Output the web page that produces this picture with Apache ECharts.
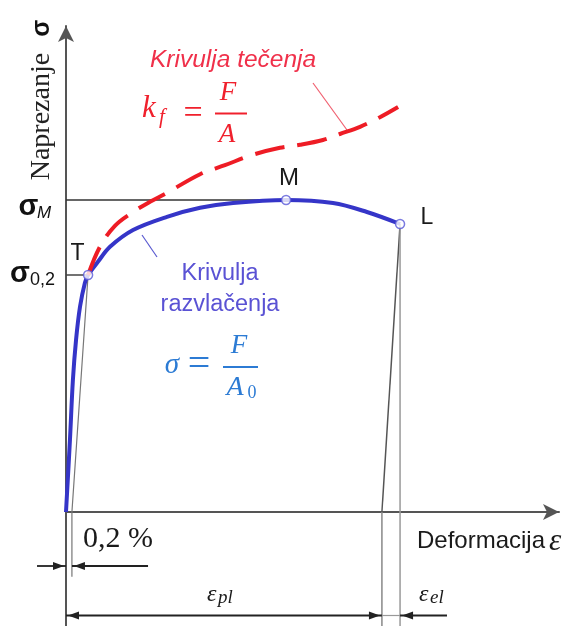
<!DOCTYPE html>
<html>
<head>
<meta charset="utf-8">
<script src="https://cdn.jsdelivr.net/npm/echarts@6/dist/echarts.min.js"></script>
<style>
html,body{margin:0;padding:0;background:#fff;}
#chart{width:571px;height:626px;}
</style>
</head>
<body>
<div id="chart"></div>
<script>
// ---- data (strain in arbitrary %, stress in arbitrary MPa) ----
const tensileStrain = [0, 0.20, 0.35, 0.51, 0.71, 0.96, 1.12, 1.62, 2.23, 3.40, 5.12, 6.80, 8.47, 11.16, 13.54, 15.26, 16.94];
const tensileStress = [0, 120, 220, 287, 342, 382, 395, 417, 442, 470, 492, 507, 515, 520, 515, 500, 480];
const flowStrain = [1.12, 1.72, 2.48, 3.40, 4.26, 5.12, 6.80, 8.06, 9.43, 10.85, 11.87, 13.03, 13.89, 14.91, 15.92, 16.84];
const flowStress = [395, 442, 477, 500, 517, 532, 563, 578, 595, 607, 612, 620, 630, 642, 658, 675];
const pointNames = ['T', 'M', 'L'];
const pointStrain = [1.12, 11.16, 16.94];
const pointStress = [395, 520, 480];
const offsetStrain = 0.30;   // 0,2 % offset line intercept
const unloadStrain = 16.02;  // plastic strain after unloading from L

const T = [pointStrain[0], pointStress[0]];
const M = [pointStrain[1], pointStress[1]];
const L = [pointStrain[2], pointStress[2]];

const zip = (a, b) => a.map((v, i) => [v, b[i]]);

const AX = '#555';
const SANS = 'Liberation Sans';
const SERIF = 'Liberation Serif';

const chart = echarts.init(document.getElementById('chart'));

// dimension levels below the strain axis (in stress units)
const dim1 = -90, dim2 = -172.5, yBottom = -190;

const arrows = [
  // x1, y1, x2, y2, headStart, headEnd, light
  [-1.47, dim1, 0, dim1, 0, 1, 0],
  [4.16, dim1, offsetStrain, dim1, 0, 1, 0],
  [0, dim2, unloadStrain, dim2, 1, 1, 0],
  [unloadStrain, dim2, L[0], dim2, 0, 0, 1],
  [19.32, dim2, L[0], dim2, 0, 1, 0]
];

function lineSeries(data, color, width, z) {
  return {
    type: 'line', data: data, showSymbol: false, symbol: 'none', silent: true,
    lineStyle: { color: color, width: width }, z: z || 1, clip: false, animation: false
  };
}

const option = {
  animation: false,
  grid: { left: 66, right: 12, top: 26, bottom: 0 },
  xAxis: {
    type: 'value', min: 0, max: 25,
    axisLine: { show: true, onZero: true, symbol: ['none', 'arrow'], symbolSize: [12, 16],
      lineStyle: { color: AX, width: 2 } },
    axisTick: { show: false }, axisLabel: { show: false }, splitLine: { show: false }
  },
  yAxis: {
    type: 'value', min: -190, max: 810,
    axisLine: { show: true, onZero: true, symbol: ['none', 'arrow'], symbolSize: [12, 16],
      lineStyle: { color: AX, width: 2 } },
    axisTick: { show: false }, axisLabel: { show: false }, splitLine: { show: false }
  },
  series: [
    lineSeries([[0, M[1]], M], '#333', 1.5),
    lineSeries([[0, T[1]], T], '#444', 1.5),
    lineSeries([T, [offsetStrain, 0], [offsetStrain, -108]], '#777', 1.2),
    lineSeries([L, [unloadStrain, 0]], '#555', 1.5),
    lineSeries([[unloadStrain, 0], [unloadStrain, yBottom]], '#888', 1.5),
    lineSeries([L, [L[0], yBottom]], '#999', 1.5),
    {
      type: 'line', data: zip(tensileStrain, tensileStress), smooth: 0.35, showSymbol: false,
      symbol: 'none', lineStyle: { color: '#3535c8', width: 4 }, z: 3
    },
    {
      type: 'line', data: zip(flowStrain, flowStress), smooth: 0.35, showSymbol: false,
      symbol: 'none', lineStyle: { color: '#ee1c25', width: 4, type: [30, 13] }, z: 4
    },
    {
      type: 'scatter', data: zip(pointStrain, pointStress).map((p, i) => ({ name: pointNames[i], value: p })),
      symbol: 'circle', symbolSize: 9, z: 6,
      itemStyle: { color: '#fff', borderColor: '#5a5ad8', borderWidth: 1.5 }
    },
    {
      type: 'custom', clip: false, z: 2, data: arrows,
      encode: { x: [0, 2], y: [1, 3] },
      renderItem: function (params, api) {
        const p1 = api.coord([api.value(0), api.value(1)]);
        const p2 = api.coord([api.value(2), api.value(3)]);
        const light = api.value(6);
        const col = light ? '#999' : '#222';
        const ch = [];
        function head(tip, from) {
          const dx = tip[0] - from[0], dy = tip[1] - from[1];
          const len = Math.hypot(dx, dy);
          const ux = dx / len, uy = dy / len;
          const t = [tip[0] - ux * 2, tip[1] - uy * 2];
          const HL = 11, HW = 4;
          return { type: 'polygon', shape: { points: [t,
            [t[0] - ux * HL - uy * HW, t[1] - uy * HL + ux * HW],
            [t[0] - ux * HL + uy * HW, t[1] - uy * HL - ux * HW]] },
            style: { fill: '#222' } };
        }
        ch.push({ type: 'line', shape: { x1: p1[0], y1: p1[1], x2: p2[0], y2: p2[1] },
          style: { stroke: col, lineWidth: light ? 1.2 : 1.8 } });
        if (api.value(4)) ch.push(head(p1, p2));
        if (api.value(5)) ch.push(head(p2, p1));
        return { type: 'group', children: ch };
      }
    }
  ],
  graphic: [
    // axis titles
    { type: 'text', x: 42, y: 100, rotation: Math.PI / 2, style: {
      text: '{a|Naprezanje}{b|σ}', align: 'center', verticalAlign: 'middle',
      rich: { a: { font: '28px ' + SERIF, fill: '#222' },
              b: { font: 'bold 25px ' + SANS, fill: '#111', padding: [0, 0, 0, 16] } } } },
    { type: 'text', x: 417, y: 541, style: { text: 'Deformacija', font: '24px ' + SANS, fill: '#1a1a1a', verticalAlign: 'middle' } },
    { type: 'text', x: 549, y: 542, style: { text: 'ε', font: 'italic 31px ' + SERIF, fill: '#1a1a1a', verticalAlign: 'middle' } },
    // y labels
    { type: 'text', x: 28.5, y: 207, style: { text: 'σ', font: 'bold 29px ' + SANS, fill: '#111', align: 'center', verticalAlign: 'middle' } },
    { type: 'text', x: 37, y: 213, style: { text: 'M', font: 'italic 17px ' + SANS, fill: '#111', verticalAlign: 'middle' } },
    { type: 'text', x: 20, y: 274, style: { text: 'σ', font: 'bold 29px ' + SANS, fill: '#111', align: 'center', verticalAlign: 'middle' } },
    { type: 'text', x: 30, y: 280, style: { text: '0,2', font: '18px ' + SANS, fill: '#111', verticalAlign: 'middle' } },
    // point labels
    { type: 'text', x: 77.5, y: 254, style: { text: 'T', font: '23px ' + SANS, fill: '#1a1a1a', align: 'center', verticalAlign: 'middle' } },
    { type: 'text', x: 289, y: 178, style: { text: 'M', font: '24px ' + SANS, fill: '#1a1a1a', align: 'center', verticalAlign: 'middle' } },
    { type: 'text', x: 427, y: 218, style: { text: 'L', font: '23px ' + SANS, fill: '#1a1a1a', align: 'center', verticalAlign: 'middle' } },
    // flow curve annotation
    { type: 'text', x: 150, y: 60, style: { text: 'Krivulja tečenja', font: 'italic 24.5px ' + SANS, fill: '#f0304a', verticalAlign: 'middle' } },
    { type: 'line', shape: { x1: 313, y1: 83, x2: 347, y2: 130 }, style: { stroke: '#f06070', lineWidth: 1.2 } },
    { type: 'text', x: 142, y: 109, style: { text: 'k', font: 'italic 31px ' + SERIF, fill: '#f0202c', verticalAlign: 'middle' } },
    { type: 'text', x: 159, y: 117, style: { text: 'f', font: 'italic 21px ' + SERIF, fill: '#f0202c', verticalAlign: 'middle' } },
    { type: 'text', x: 193, y: 114, style: { text: '=', font: '34px ' + SERIF, fill: '#f0202c', align: 'center', verticalAlign: 'middle' } },
    { type: 'text', x: 228, y: 93, style: { text: 'F', font: 'italic 27px ' + SERIF, fill: '#f0202c', align: 'center', verticalAlign: 'middle' } },
    { type: 'line', shape: { x1: 215, y1: 113.5, x2: 247, y2: 113.5 }, style: { stroke: '#f0202c', lineWidth: 2 } },
    { type: 'text', x: 227, y: 135, style: { text: 'A', font: 'italic 27px ' + SERIF, fill: '#f0202c', align: 'center', verticalAlign: 'middle' } },
    // tensile curve annotation
    { type: 'line', shape: { x1: 142, y1: 235, x2: 157, y2: 257 }, style: { stroke: '#5a5ad0', lineWidth: 1.2 } },
    { type: 'text', x: 220, y: 274, style: { text: 'Krivulja', font: '23.5px ' + SANS, fill: '#5a52d4', align: 'center', verticalAlign: 'middle' } },
    { type: 'text', x: 220, y: 305, style: { text: 'razvlačenja', font: '23.5px ' + SANS, fill: '#5a52d4', align: 'center', verticalAlign: 'middle' } },
    { type: 'text', x: 172, y: 365, style: { text: 'σ', font: 'italic 29px ' + SERIF, fill: '#2c7bd4', align: 'center', verticalAlign: 'middle' } },
    { type: 'text', x: 199, y: 365, style: { text: '=', font: '40px ' + SERIF, fill: '#2c7bd4', align: 'center', verticalAlign: 'middle' } },
    { type: 'text', x: 239, y: 346, style: { text: 'F', font: 'italic 27px ' + SERIF, fill: '#2c7bd4', align: 'center', verticalAlign: 'middle' } },
    { type: 'line', shape: { x1: 223, y1: 367, x2: 258, y2: 367 }, style: { stroke: '#2c7bd4', lineWidth: 2 } },
    { type: 'text', x: 235, y: 388, style: { text: 'A', font: 'italic 28px ' + SERIF, fill: '#2c7bd4', align: 'center', verticalAlign: 'middle' } },
    { type: 'text', x: 252, y: 393, style: { text: '0', font: '18px ' + SERIF, fill: '#2c7bd4', align: 'center', verticalAlign: 'middle' } },
    // dimension labels
    { type: 'text', x: 83, y: 539, style: { text: '0,2 %', font: '30px ' + SERIF, fill: '#1a1a1a', verticalAlign: 'middle' } },
    { type: 'text', x: 207, y: 595, style: { text: 'ε', font: 'italic 24px ' + SERIF, fill: '#1a1a1a', verticalAlign: 'middle' } },
    { type: 'text', x: 218, y: 598, style: { text: 'pl', font: 'italic 19px ' + SERIF, fill: '#1a1a1a', verticalAlign: 'middle' } },
    { type: 'text', x: 419, y: 595, style: { text: 'ε', font: 'italic 24px ' + SERIF, fill: '#1a1a1a', verticalAlign: 'middle' } },
    { type: 'text', x: 430, y: 598, style: { text: 'el', font: 'italic 19px ' + SERIF, fill: '#1a1a1a', verticalAlign: 'middle' } }
  ]
};
chart.setOption(option);
</script>
</body>
</html>
